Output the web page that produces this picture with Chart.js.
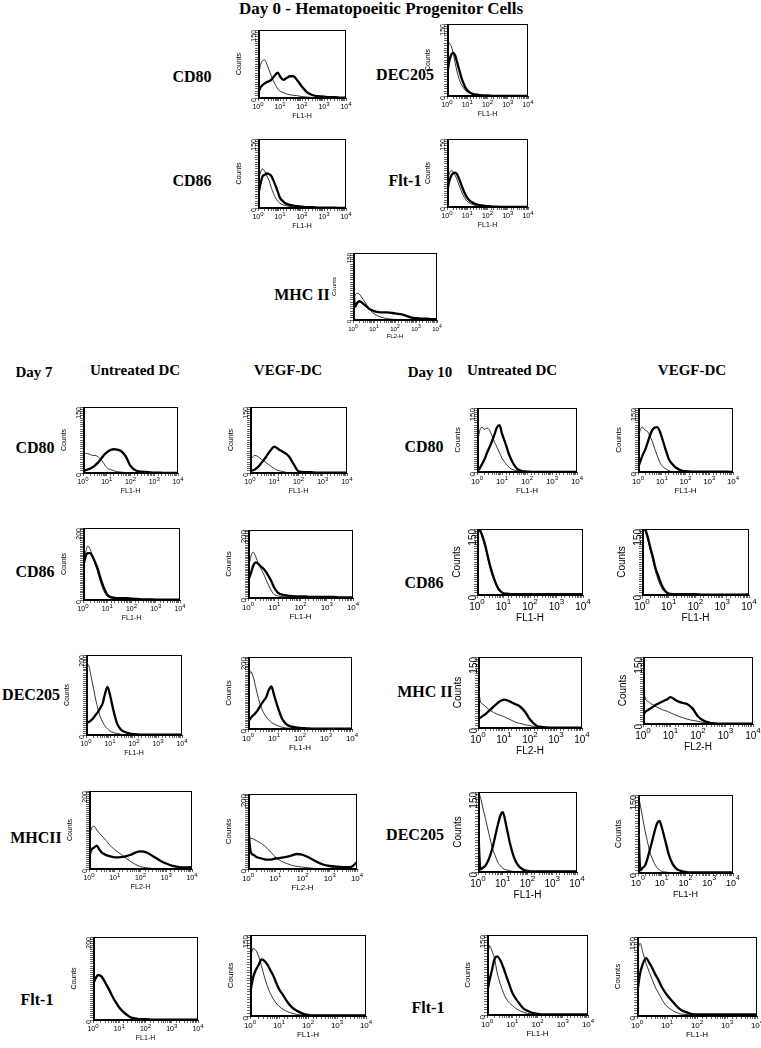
<!DOCTYPE html>
<html>
<head>
<meta charset="utf-8">
<script src="https://cdn.jsdelivr.net/npm/chart.js@4.4.0/dist/chart.umd.min.js"></script>
<style>
  body { margin: 0; background: #fff; width: 761px; height: 1048px; position: relative; overflow: hidden; }
  .lbl { position: absolute; font-family: "Liberation Serif", serif; font-weight: bold; color: #000;
         white-space: nowrap; transform: translate(-50%, -50%); }
  canvas { position: absolute; }
</style>
</head>
<body>
<script>
// fluorescence channel sample points (log scale, 10^0 .. 10^4)
const channels = [1, 1.26, 1.58, 2, 2.51, 3.16, 3.98, 5.01, 6.31, 7.94, 10, 14.1, 20, 28.2, 39.8, 63.1, 100, 178, 316, 562, 1000, 1778, 3162, 5623, 10000];
const decadeValues = [1, 10, 100, 1000, 10000];
const decadeExponents = ['0', '1', '2', '3', '4'];

// thin line = isotype control, thick line = stained
// Day 0
const d0Cd80Iso   = [40,70,82,84,75,62,50,38,28,20,15,12,9,7,6,5,3,2,1,1,0,0,0,0,0];
const d0Cd80Ab    = [10,22,28,32,35,37,40,46,52,56,48,40,44,48,48,38,25,12,6,4,3,2,2,1,1];
const d0Dec205Iso = [60,110,105,90,70,50,35,25,18,12,8,5,3,2,1,1,0,0,0,0,0,0,0,0,0];
const d0Dec205Ab  = [40,70,85,90,85,70,55,40,28,18,12,7,4,3,2,1,1,0,0,0,0,0,0,0,0];
const d0Cd86Iso   = [55,75,85,80,70,60,45,32,22,15,10,7,5,3,2,1,1,0,0,0,0,0,0,0,0];
const d0Cd86Ab    = [25,50,68,72,75,74,70,60,48,35,22,14,9,7,5,4,3,2,2,1,1,1,1,0,0];
const d0Flt1Iso   = [50,72,80,78,70,60,48,36,26,18,12,8,5,3,2,1,1,0,0,0,0,0,0,0,0];
const d0Flt1Ab    = [30,55,68,74,76,72,62,50,38,28,20,13,9,6,4,3,2,1,1,0,0,0,0,0,0];
const d0MhcIso    = [40,55,60,58,52,45,38,30,24,18,14,10,7,5,3,2,1,0,0,0,0,0,0,0,0];
const d0MhcAb     = [85,30,38,42,40,36,32,28,24,22,20,18,17,17,17,16,15,13,10,6,4,3,3,2,2];

// Day 7 untreated / VEGF
const d7uCd80Iso   = [50,45,44,42,40,40,38,34,28,20,12,8,5,3,2,1,0,0,0,0,0,0,0,0,0];
const d7uCd80Ab    = [5,6,8,10,13,17,22,28,35,42,47,52,54,53,50,38,16,5,3,2,1,1,0,0,0];
const d7vCd80Iso   = [30,36,40,38,34,30,26,22,18,14,10,6,4,2,1,1,0,0,0,0,0,0,0,0,0];
const d7vCd80Ab    = [5,6,8,12,18,25,32,40,48,55,60,55,50,45,38,20,4,2,2,1,1,1,1,1,1];
const d7uCd86Iso   = [100,130,150,140,120,100,80,55,35,20,10,6,4,3,3,3,2,1,1,0,0,0,0,0,0];
const d7uCd86Ab    = [90,120,130,130,120,105,88,65,45,28,15,8,6,5,5,5,4,3,2,2,1,1,1,1,1];
const d7vCd86Iso   = [80,120,135,120,100,85,70,52,35,20,10,6,4,3,2,2,1,1,0,0,0,0,0,0,0];
const d7vCd86Ab    = [50,70,95,105,100,92,85,75,62,48,30,15,10,8,6,5,5,4,3,3,3,3,2,2,2];
const d7uDec205Iso = [170,175,150,120,90,65,45,32,22,15,10,6,4,2,1,1,0,0,0,0,0,0,0,0,0];
const d7uDec205Ab  = [30,32,36,42,50,58,68,80,105,120,100,60,28,14,8,4,2,1,1,1,1,1,1,1,1];
const d7vDec205Iso = [120,160,145,115,85,62,45,34,25,18,14,9,5,3,2,1,0,0,0,0,0,0,0,0,0];
const d7vDec205Ab  = [20,30,38,45,55,68,78,88,108,118,95,60,30,15,8,5,3,2,1,1,1,1,1,1,1];
const d7uMhcIso    = [80,105,110,100,92,85,78,70,62,55,50,42,35,27,20,12,6,3,1,0,0,0,0,0,0];
const d7uMhcAb     = [30,50,55,60,50,42,38,35,33,31,30,30,31,33,36,42,45,42,32,22,14,8,5,4,5];
const d7vMhcIso    = [85,82,80,76,72,68,62,55,48,40,32,24,18,14,10,7,5,3,1,0,0,0,0,0,0];
const d7vMhcAb     = [120,45,38,32,30,28,26,25,25,26,28,29,31,33,36,40,38,30,20,12,8,6,5,5,18];
const d7uFlt1Iso   = [90,105,110,105,95,85,72,60,48,38,28,18,10,5,3,2,1,0,0,0,0,0,0,0,0];
const d7uFlt1Ab    = [85,100,108,106,98,86,75,62,50,40,30,20,12,6,4,2,2,1,1,1,1,1,1,1,1];
const d7vFlt1Iso   = [95,125,122,110,92,72,55,42,32,24,18,12,8,5,3,2,1,0,0,0,0,0,0,0,0];
const d7vFlt1Ab    = [40,70,85,95,105,102,95,85,75,62,50,38,25,16,10,5,2,1,1,1,1,1,1,1,1];

// Day 10 untreated / VEGF
const d10uCd80Iso   = [60,95,105,100,103,98,85,70,58,45,32,20,10,5,3,1,0,0,0,0,0,0,0,0,0];
const d10uCd80Ab    = [0,8,18,30,45,58,72,88,105,110,90,65,38,20,8,2,1,0,0,0,0,0,0,0,0];
const d10vCd80Iso   = [70,100,105,98,95,85,72,55,40,25,15,8,3,1,0,0,0,0,0,0,0,0,0,0,0];
const d10vCd80Ab    = [10,25,40,52,68,85,98,104,105,98,82,55,30,18,10,4,2,1,1,1,1,1,1,1,0];
const d10uCd86Iso   = [150,145,130,110,85,60,40,25,12,6,3,2,1,1,1,1,0,0,0,0,0,0,0,0,0];
const d10uCd86Ab    = [145,148,135,115,90,65,45,28,15,8,4,3,2,2,2,2,2,2,2,2,2,2,2,2,2];
const d10vCd86Iso   = [150,148,130,105,80,55,35,20,10,5,2,1,1,0,0,0,0,0,0,0,0,0,0,0,0];
const d10vCd86Ab    = [148,150,135,110,88,62,45,28,15,7,3,2,2,2,2,2,2,1,1,1,1,1,1,1,2];
const d10uMhcIso    = [90,55,50,45,40,36,33,30,28,26,24,20,16,12,10,7,5,2,1,0,0,0,0,0,0];
const d10uMhcAb     = [20,22,26,30,35,40,45,50,55,58,60,58,54,50,46,35,18,5,2,1,1,1,1,1,1];
const d10vMhcIso    = [80,55,50,45,42,38,35,32,30,28,25,21,17,14,11,8,6,3,1,0,0,0,0,0,0];
const d10vMhcAb     = [20,28,32,36,40,44,47,50,53,56,60,55,50,47,45,35,17,6,2,1,1,1,1,1,1];
const d10uDec205Iso = [150,140,120,100,80,60,42,30,18,12,7,4,2,1,1,1,0,0,0,0,0,0,0,0,0];
const d10uDec205Ab  = [90,5,8,12,20,32,48,68,88,105,112,85,52,28,14,5,2,1,1,1,1,1,1,1,1];
const d10vDec205Iso = [150,130,105,80,60,40,28,18,10,6,3,2,1,0,0,0,0,0,0,0,0,0,0,0,0];
const d10vDec205Ab  = [120,5,10,15,28,45,62,80,95,100,88,62,35,18,9,4,2,1,1,1,1,1,1,1,1];
const d10uFlt1Iso   = [90,130,120,105,80,62,48,36,28,22,18,12,8,5,3,2,1,0,0,0,0,0,0,0,0];
const d10uFlt1Ab    = [40,65,85,105,110,105,95,82,68,55,42,30,20,12,8,4,2,1,1,1,1,1,1,1,1];
const d10vFlt1Iso   = [120,138,120,100,85,70,56,45,35,25,18,12,7,4,3,2,1,0,0,0,0,0,0,0,0];
const d10vFlt1Ab    = [40,80,100,110,102,92,80,70,58,48,40,30,20,12,8,4,3,3,3,3,3,3,3,3,3];

// panel layout: plot box [left, top, right, bottom] in page pixels, font size for axis text
const panels = [
  { iso: d0Cd80Iso,   ab: d0Cd80Ab,   ymax: 150, xt: 'FL1-H', box: [258, 30, 346, 98],  fs: 7 },
  { iso: d0Dec205Iso, ab: d0Dec205Ab, ymax: 150, xt: 'FL1-H', box: [447, 24, 528, 96],  fs: 7 },
  { iso: d0Cd86Iso,   ab: d0Cd86Ab,   ymax: 150, xt: 'FL1-H', box: [258, 139, 346, 208], fs: 7 },
  { iso: d0Flt1Iso,   ab: d0Flt1Ab,   ymax: 150, xt: 'FL1-H', box: [447, 139, 528, 207], fs: 7 },
  { iso: d0MhcIso,    ab: d0MhcAb,    ymax: 150, xt: 'FL2-H', box: [353, 253, 437, 320], fs: 6 },

  { iso: d7uCd80Iso, ab: d7uCd80Ab, ymax: 150, xt: 'FL1-H', box: [83, 407, 178, 473], fs: 7 },
  { iso: d7vCd80Iso, ab: d7vCd80Ab, ymax: 150, xt: 'FL1-H', box: [250, 407, 347, 473], fs: 7 },
  { iso: d10uCd80Iso, ab: d10uCd80Ab, ymax: 150, xt: 'FL1-H', box: [477, 408, 577, 472], fs: 8 },
  { iso: d10vCd80Iso, ab: d10vCd80Ab, ymax: 150, xt: 'FL1-H', box: [638, 408, 733, 472], fs: 8 },

  { iso: d7uCd86Iso, ab: d7uCd86Ab, ymax: 200, xt: 'FL1-H', box: [83, 528, 180, 600], fs: 7 },
  { iso: d7vCd86Iso, ab: d7vCd86Ab, ymax: 200, xt: 'FL1-H', box: [248, 530, 353, 598], fs: 8 },
  { iso: d10uCd86Iso, ab: d10uCd86Ab, ymax: 150, xt: 'FL1-H', box: [477, 529, 583, 595], fs: 10 },
  { iso: d10vCd86Iso, ab: d10vCd86Ab, ymax: 150, xt: 'FL1-H', box: [642, 529, 749, 595], fs: 10 },

  { iso: d7uDec205Iso, ab: d7uDec205Ab, ymax: 200, xt: 'FL1-H', box: [86, 655, 182, 735], fs: 7 },
  { iso: d7vDec205Iso, ab: d7vDec205Ab, ymax: 200, xt: 'FL1-H', box: [248, 657, 352, 729], fs: 8 },
  { iso: d10uMhcIso, ab: d10uMhcAb, ymax: 150, xt: 'FL2-H', box: [478, 657, 582, 728], fs: 10 },
  { iso: d10vMhcIso, ab: d10vMhcAb, ymax: 150, xt: 'FL2-H', box: [643, 657, 753, 724], fs: 10 },

  { iso: d7uMhcIso, ab: d7uMhcAb, ymax: 200, xt: 'FL2-H', box: [89, 791, 192, 869], fs: 7 },
  { iso: d7vMhcIso, ab: d7vMhcAb, ymax: 200, xt: 'FL2-H', box: [248, 794, 357, 869], fs: 8 },
  { iso: d10uDec205Iso, ab: d10uDec205Ab, ymax: 150, xt: 'FL1-H', box: [478, 792, 577, 872], fs: 10 },
  { iso: d10vDec205Iso, ab: d10vDec205Ab, ymax: 150, xt: 'FL1-H', box: [638, 795, 733, 873], fs: 9 },

  { iso: d7uFlt1Iso, ab: d7uFlt1Ab, ymax: 200, xt: 'FL1-H', box: [93, 937, 198, 1020], fs: 7 },
  { iso: d7vFlt1Iso, ab: d7vFlt1Ab, ymax: 150, xt: 'FL1-H', box: [250, 935, 366, 1016], fs: 8 },
  { iso: d10uFlt1Iso, ab: d10uFlt1Ab, ymax: 150, xt: 'FL1-H', box: [487, 935, 588, 1015], fs: 8 },
  { iso: d10vFlt1Iso, ab: d10vFlt1Ab, ymax: 150, xt: 'FL1-H', box: [637, 937, 757, 1016], fs: 8 }
];

// text labels: [text, centre x, centre y, font size]
const texts = [
  ['Day 0 - Hematopoeitic Progenitor Cells', 381, 9, 17],
  ['CD80', 192, 77, 16], ['DEC205', 405, 75, 16], ['CD86', 192, 181, 16], ['Flt-1', 405, 181, 16], ['MHC II', 302, 295, 16],
  ['Day 7', 34, 372, 15], ['Untreated DC', 135, 370, 15], ['VEGF-DC', 288, 370, 15],
  ['Day 10', 430, 372, 15], ['Untreated DC', 512, 370, 15], ['VEGF-DC', 692, 370, 15],
  ['CD80', 35, 448, 16], ['CD86', 35, 572, 16], ['DEC205', 31, 695, 16], ['MHCII', 36, 838, 16], ['Flt-1', 37, 1000, 16],
  ['CD80', 424, 447, 16], ['CD86', 424, 583, 16], ['MHC II', 425, 692, 16], ['DEC205', 415, 835, 16], ['Flt-1', 428, 1008, 16]
];

texts.forEach(([t, x, y, s]) => {
  const d = document.createElement('div');
  d.className = 'lbl';
  d.textContent = t;
  d.style.left = x + 'px';
  d.style.top = y + 'px';
  d.style.fontSize = s + 'px';
  document.body.appendChild(d);
});

// closed frame round the plot area, heavier on the left like the cytometer output
const boxPlugin = {
  id: 'box',
  afterDatasetsDraw(chart) {
    const a = chart.chartArea, c = chart.ctx;
    c.save();
    c.strokeStyle = '#000';
    c.lineWidth = 1;
    c.strokeRect(a.left + 0.5, a.top + 0.5, a.right - a.left - 1, a.bottom - a.top - 1);
    c.lineWidth = 2;
    c.beginPath();
    c.moveTo(a.left + 1, a.top);
    c.lineTo(a.left + 1, a.bottom);
    c.stroke();
    c.restore();
  }
};

// "10" with a raised exponent under each decade tick
const decadePlugin = {
  id: 'decades',
  afterDraw(chart, args, opts) {
    const s = chart.scales.x, c = chart.ctx, fs = opts.fs;
    const supFs = Math.round(fs * 0.8);
    c.save();
    c.fillStyle = '#000';
    c.textBaseline = 'top';
    decadeValues.forEach((v, i) => {
      const x = s.getPixelForValue(v);
      c.font = fs + 'px "Liberation Sans"';
      const w = c.measureText('10').width;
      c.font = supFs + 'px "Liberation Sans"';
      const ws = c.measureText(decadeExponents[i]).width;
      const x0 = x - (w + ws) / 2;
      const y0 = s.top + 4 + Math.round(fs * 0.25);
      c.font = fs + 'px "Liberation Sans"';
      c.fillText('10', x0, y0);
      c.font = supFs + 'px "Liberation Sans"';
      c.fillText(decadeExponents[i], x0 + w, y0 - Math.round(fs * 0.4));
    });
    c.restore();
  }
};

function drawPanel(p) {
  const [l, t, r, b] = p.box;
  const padL = p.fs + 16, padB = Math.round(p.fs * 2.3) + 6, padT = 8, padR = 8;
  const cv = document.createElement('canvas');
  cv.width = (r - l) + padL + padR;
  cv.height = (b - t) + padT + padB;
  cv.style.left = (l - padL) + 'px';
  cv.style.top = (t - padT) + 'px';
  document.body.appendChild(cv);

  const font = { family: 'Liberation Sans', size: p.fs };
  new Chart(cv, {
    type: 'line',
    data: {
      datasets: [
        { data: channels.map((x, i) => ({ x, y: p.iso[i] })), borderColor: '#000', borderWidth: 0.8 },
        { data: channels.map((x, i) => ({ x, y: p.ab[i] })), borderColor: '#000', borderWidth: 2.3 }
      ]
    },
    options: {
      responsive: false,
      animation: false,
      events: [],
      layout: { padding: { top: padT, right: padR, left: 0, bottom: 0 } },
      elements: { point: { radius: 0 }, line: { cubicInterpolationMode: 'monotone' } },
      plugins: { legend: { display: false }, tooltip: { enabled: false }, decades: { fs: p.fs } },
      scales: {
        x: {
          type: 'logarithmic', min: 1, max: 10000,
          afterFit: s => { s.height = padB; },
          grid: { drawOnChartArea: false, tickLength: 3, color: '#000', lineWidth: 0.6 },
          border: { color: '#000', width: 1 },
          ticks: { autoSkip: false, minRotation: 0, maxRotation: 0, padding: 0, font, callback: () => '' },
          title: { display: true, text: p.xt, color: '#000', font, padding: 0 }
        },
        y: {
          min: 0, max: p.ymax,
          afterFit: s => { s.width = padL; },
          grid: { drawOnChartArea: false, tickLength: 3, color: '#000', lineWidth: 0.6 },
          border: { color: '#000', width: 1 },
          ticks: {
            stepSize: 5, autoSkip: false, minRotation: 90, maxRotation: 90, padding: 1, color: '#000', font,
            callback: v => (v === 0 || v === p.ymax) ? String(v) : ''
          },
          title: { display: true, text: 'Counts', color: '#000', font, padding: 0 }
        }
      }
    },
    plugins: [boxPlugin, decadePlugin]
  });
}

panels.forEach(drawPanel);
</script>
</body>
</html>
